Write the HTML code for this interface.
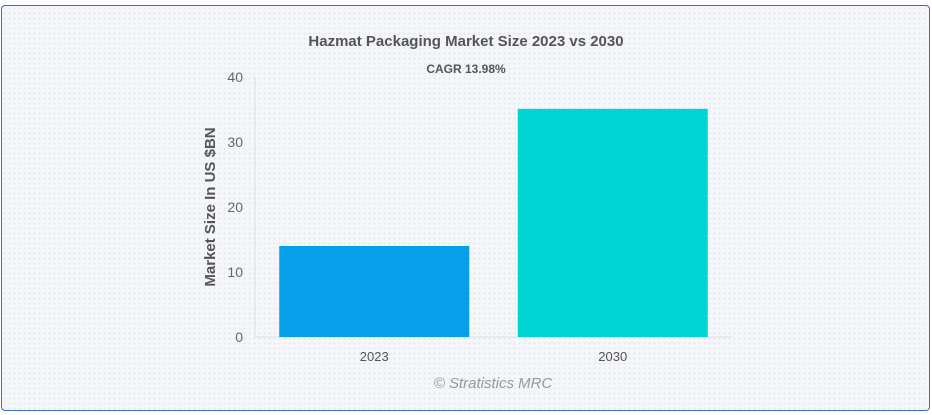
<!DOCTYPE html>
<html><head><meta charset="utf-8"><style>
body{margin:0;width:932px;height:415px;background:#fff;font-family:"Liberation Sans",Arial,sans-serif;overflow:hidden}
#card{position:absolute;left:1px;top:5px;width:927px;height:404px;border:1px solid #3a6cc0;border-radius:4px;background-color:#f4f6f9;background-image:radial-gradient(#e2e5ea 0.8px,transparent 0.9px);background-size:5px 5px}
svg{position:absolute;left:0;top:0}
</style></head><body>
<div id="card"></div>
<svg id="chart" width="932" height="415">
<text x="466" y="46" text-anchor="middle" font-size="15" font-weight="bold" fill="#555">Hazmat Packaging Market Size 2023 vs 2030</text>
<text x="466" y="73" text-anchor="middle" font-size="12" font-weight="bold" fill="#555">CAGR 13.98%</text>
<text transform="translate(215,207) rotate(-90)" text-anchor="middle" font-size="15" font-weight="bold" fill="#555">Market Size In US $BN</text>
<text x="493" y="388" text-anchor="middle" font-size="15" font-style="italic" fill="#999">© Stratistics MRC</text>
<g id="plot"></g>
</svg>
<script>
const categories=["2023","2030"];
const values=[14.0,35.1];
const colors=["#069fe9","#00d4d4"];
const yTicks=[0,10,20,30,40];
const x0=255,x1=732,yBase=337,yTop=77,yMax=40;
const ys=v=>yBase-(v/yMax)*(yBase-yTop);
const band=(x1-x0)/categories.length,bw=190;
const g=document.getElementById('plot'),NS="http://www.w3.org/2000/svg";
function mk(t,a){const e=document.createElementNS(NS,t);for(const k in a)e.setAttribute(k,a[k]);g.appendChild(e);return e;}
let ax=mk('line',{x1:x0,x2:x0,y1:yTop,y2:yBase,stroke:"#ddd"});


let bx=mk('line',{x1:x0,x2:x1,y1:yBase,y2:yBase,stroke:"#ddd"});


yTicks.forEach(t=>{const e=mk('text',{x:243,y:ys(t)+5,"text-anchor":"end","font-size":14,fill:"#666"});e.textContent=t;

});
categories.forEach((c,i)=>{const cx=x0+band*(i+0.5);
const r=mk('rect',{x:cx-bw/2,y:ys(values[i]),width:bw,height:yBase-ys(values[i]),fill:colors[i]});


const t=mk('text',{x:cx,y:361,"text-anchor":"middle","font-size":13,fill:"#555"});t.textContent=c;

});
</script>
</body></html>
